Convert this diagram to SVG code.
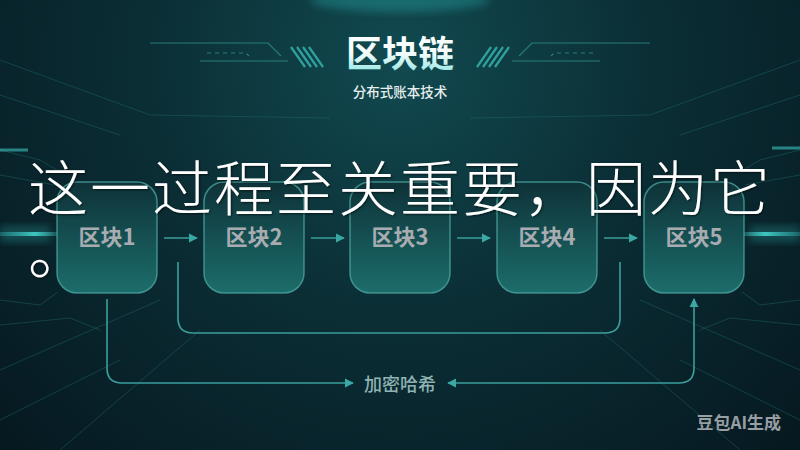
<svg xmlns="http://www.w3.org/2000/svg" width="800" height="450" viewBox="0 0 800 450">
  <defs>
    <radialGradient id="bg" cx="400" cy="60" r="560" gradientUnits="userSpaceOnUse">
      <stop offset="0" stop-color="#114a50"/>
      <stop offset="0.45" stop-color="#0b2e35"/>
      <stop offset="1" stop-color="#061820"/>
    </radialGradient>
    <linearGradient id="blockFill" x1="0" y1="0" x2="0" y2="1">
      <stop offset="0" stop-color="#0e3238"/>
      <stop offset="1" stop-color="#1c6d6b"/>
    </linearGradient>
    <linearGradient id="titleFill" x1="0" y1="0" x2="0" y2="1">
      <stop offset="0" stop-color="#ffffff"/>
      <stop offset="0.55" stop-color="#f2fbfb"/>
      <stop offset="1" stop-color="#7fe3df"/>
    </linearGradient>
    <linearGradient id="glowL" x1="0" y1="0" x2="1" y2="0">
      <stop offset="0" stop-color="#2fb3b0" stop-opacity="0.3"/>
      <stop offset="0.6" stop-color="#47d6d0" stop-opacity="0.9"/>
      <stop offset="1" stop-color="#47d6d0" stop-opacity="0.2"/>
    </linearGradient>
    <linearGradient id="glowR" x1="1" y1="0" x2="0" y2="0">
      <stop offset="0" stop-color="#2fb3b0" stop-opacity="0.3"/>
      <stop offset="0.6" stop-color="#47d6d0" stop-opacity="0.9"/>
      <stop offset="1" stop-color="#47d6d0" stop-opacity="0.2"/>
    </linearGradient>
    <filter id="soft" x="-20%" y="-20%" width="140%" height="140%">
      <feGaussianBlur stdDeviation="4"/>
    </filter>
    <filter id="txtShadow" x="-5%" y="-20%" width="110%" height="140%">
      <feDropShadow dx="1" dy="1" stdDeviation="1.2" flood-color="#000000" flood-opacity="0.6"/>
    </filter>
    <marker id="arrow" viewBox="0 0 10 10" refX="9" refY="5" markerWidth="9" markerHeight="10" markerUnits="userSpaceOnUse" orient="auto-start-reverse">
      <path d="M0,0 L10,5 L0,10 Z" fill="#3aa8a4"/>
    </marker>
    <style>
      .block rect { fill: url(#blockFill); stroke: #4da8a4; stroke-opacity: 0.75; stroke-width: 1.5; }
      .block text { font-family: "Noto Sans CJK SC", "Noto Sans", sans-serif; font-weight: 700; font-size: 22px; fill: #a8acb1; text-anchor: middle; }
      .conn { fill: none; stroke: #3a9f9c; stroke-width: 1.6; }
      .deco { fill: none; stroke: #2f8f8c; stroke-width: 1.2; stroke-opacity: 0.8; }
      .faint { fill: none; stroke: #1f6a6a; stroke-width: 1; stroke-opacity: 0.45; }
      .stripe { stroke: #36b3ab; stroke-width: 2.2; stroke-opacity: 0.85; }
      .cap { font-family: "Noto Sans CJK SC", serif; font-weight: 300; font-size: 60px; fill: #ffffff; }
    </style>
  </defs>

  <!-- background -->
  <rect x="0" y="0" width="800" height="450" fill="url(#bg)"/>
  <ellipse cx="400" cy="0" rx="90" ry="12" fill="#2ab3b0" opacity="0.35" filter="url(#soft)"/>

  <!-- background perspective / circuit lines -->
  <g id="background-lines">
    <path class="faint" d="M0,60 L150,115 L330,118"/>
    <path class="faint" d="M470,118 L650,115 L800,60"/>
    <path class="faint" d="M0,95 L120,135"/>
    <path class="faint" d="M800,95 L680,135"/>
    <path class="faint" d="M0,150 L40,160 L60,172"/>
    <path class="faint" d="M800,150 L760,160 L740,172"/>
    <path class="faint" d="M0,175 L55,185"/>
    <path class="faint" d="M800,175 L745,185"/>
    <path class="faint" d="M0,300 L40,305 L58,292"/>
    <path class="faint" d="M800,300 L760,305 L742,292"/>
    <path class="faint" d="M0,325 L70,318 L100,330"/>
    <path class="faint" d="M800,325 L730,318 L700,330"/>
    <path class="faint" d="M0,370 L160,300"/>
    <path class="faint" d="M800,370 L640,300"/>
    <path class="faint" d="M60,450 L200,330"/>
    <path class="faint" d="M740,450 L600,330"/>
    <path class="faint" d="M0,420 L120,360"/>
    <path class="faint" d="M800,420 L680,360"/>
    <path d="M0,150 L28,150" stroke="#3ec4bf" stroke-width="3" stroke-opacity="0.6"/>
    <path d="M772,148 L800,148" stroke="#3ec4bf" stroke-width="3" stroke-opacity="0.6"/>
    <rect x="0" y="232" width="58" height="4" fill="url(#glowL)"/>
    <rect x="0" y="226" width="50" height="16" fill="#3ad0cb" opacity="0.25" filter="url(#soft)"/>
    <rect x="742" y="232" width="58" height="4" fill="url(#glowR)"/>
    <rect x="750" y="226" width="50" height="16" fill="#3ad0cb" opacity="0.25" filter="url(#soft)"/>
  </g>

  <!-- title decorations -->
  <g id="title-deco">
    <path class="deco" d="M150,43 H268 L281,56"/>
    <path class="deco" d="M200,61 H288"/>
    <path class="deco" d="M207,53 H246 L249,56" stroke-dasharray="4,4"/>
    <line class="stripe" x1="291" y1="47" x2="305" y2="67"/>
    <line class="stripe" x1="297" y1="47" x2="311" y2="67"/>
    <line class="stripe" x1="303" y1="47" x2="317" y2="67"/>
    <line class="stripe" x1="309" y1="47" x2="323" y2="67"/>
    <path class="deco" d="M650,43 H532 L519,56"/>
    <path class="deco" d="M600,61 H512"/>
    <path class="deco" d="M593,53 H554 L551,56" stroke-dasharray="4,4"/>
    <line class="stripe" x1="509" y1="47" x2="495" y2="67"/>
    <line class="stripe" x1="503" y1="47" x2="489" y2="67"/>
    <line class="stripe" x1="497" y1="47" x2="483" y2="67"/>
    <line class="stripe" x1="491" y1="47" x2="477" y2="67"/>
  </g>

  <!-- title -->
  <g id="title">
    <text x="400" y="67" text-anchor="middle" font-family="Noto Sans CJK SC, Noto Sans, sans-serif" font-weight="700" font-size="36" fill="url(#titleFill)">区块链</text>
    <text x="400" y="97" text-anchor="middle" font-family="Noto Sans CJK SC, Noto Sans, sans-serif" font-weight="500" font-size="13.5" fill="#e6eeee">分布式账本技术</text>
  </g>

  <!-- connectors -->
  <g id="connectors">
    <line class="conn" x1="164" y1="238" x2="197" y2="238" marker-end="url(#arrow)"/>
    <line class="conn" x1="311" y1="238" x2="344" y2="238" marker-end="url(#arrow)"/>
    <line class="conn" x1="457" y1="238" x2="490" y2="238" marker-end="url(#arrow)"/>
    <line class="conn" x1="604" y1="238" x2="637" y2="238" marker-end="url(#arrow)"/>
    <path class="conn" d="M178,262 V318 Q178,333 193,333 H605 Q620,333 620,318 V262"/>
    <path class="conn" d="M107,299 V368 Q107,383 122,383 H353" marker-end="url(#arrow)"/>
    <path class="conn" d="M448,383 H679 Q694,383 694,368 V299" marker-start="url(#arrow)" marker-end="url(#arrow)"/>
    <text x="400" y="391" text-anchor="middle" font-family="Noto Sans CJK SC, Noto Sans, sans-serif" font-weight="500" font-size="18" fill="#8fb3b3">加密哈希</text>
  </g>

  <!-- blocks -->
  <g id="block1" class="block">
    <rect x="57" y="182" width="100" height="111" rx="20"/>
    <text x="107" y="245">区块1</text>
  </g>
  <g id="block2" class="block">
    <rect x="204" y="182" width="100" height="111" rx="20"/>
    <text x="254" y="245">区块2</text>
  </g>
  <g id="block3" class="block">
    <rect x="350" y="182" width="100" height="111" rx="20"/>
    <text x="400" y="245">区块3</text>
  </g>
  <g id="block4" class="block">
    <rect x="497" y="182" width="100" height="111" rx="20"/>
    <text x="547" y="245">区块4</text>
  </g>
  <g id="block5" class="block">
    <rect x="644" y="182" width="100" height="111" rx="20"/>
    <text x="694" y="245">区块5</text>
  </g>

  <!-- watermark -->
  <text x="781" y="429" text-anchor="end" font-family="Noto Sans CJK SC, Noto Sans, sans-serif" font-weight="700" font-size="17" fill="#b3b7bb" fill-opacity="0.85">豆包AI生成</text>

  <!-- overlay caption -->
  <g id="caption" filter="url(#txtShadow)">
    <text class="cap" x="28" y="211" letter-spacing="2">这一过程至关重要，因为它</text>
    <text class="cap" x="28" y="274">。</text>
  </g>
</svg>
